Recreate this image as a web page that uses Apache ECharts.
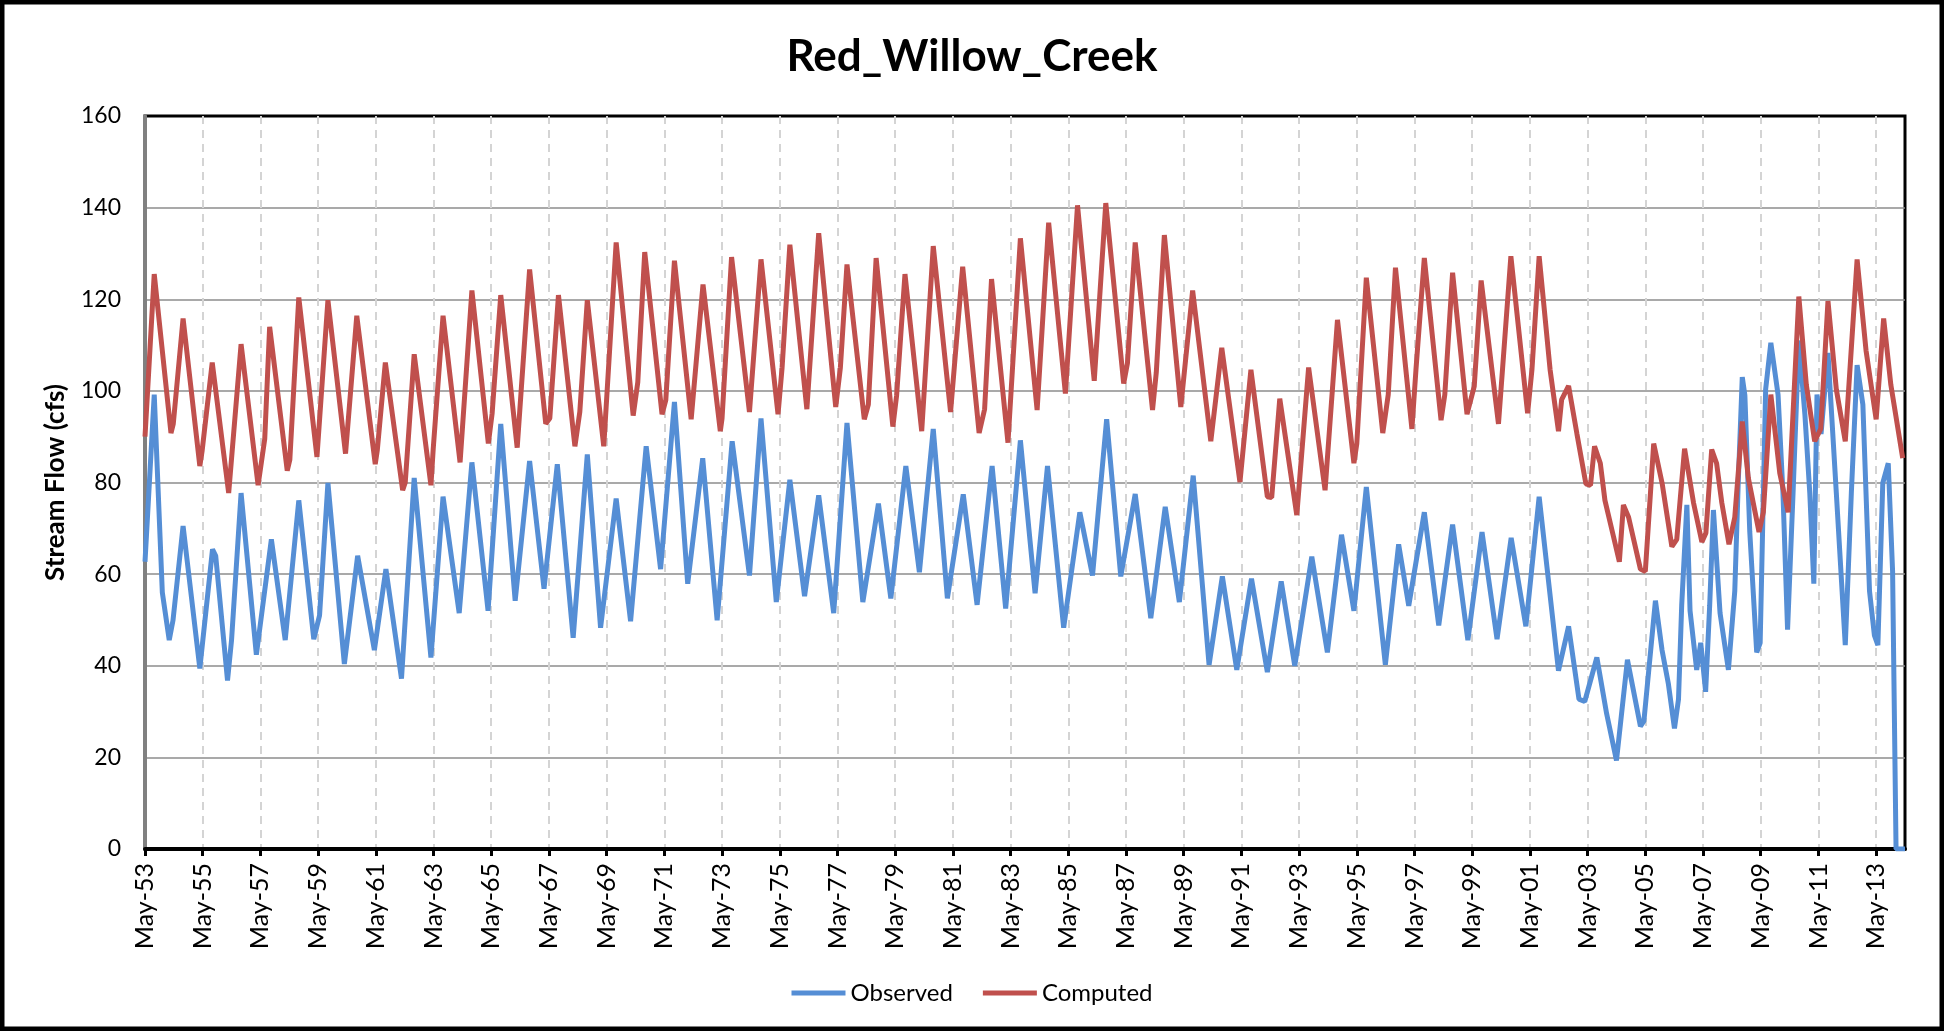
<!DOCTYPE html>
<html>
<head>
<meta charset="utf-8">
<script src="https://cdn.jsdelivr.net/npm/echarts@6/dist/echarts.min.js"></script>
<style>
  html, body { margin: 0; padding: 0; background: #fff; }
  #chart { width: 1944px; height: 1031px; }
</style>
</head>
<body>
<div id="chart"></div>
<script>
// x = years since May-53 (monthly record at peaks, troughs and bends)
var startYear = 53;
var spanYears = 61;

var observed = [
  [0, 62.7], [0.32, 99.2], [0.6, 56], [0.84, 45.6], [0.97, 49.9], [1.32, 70.5], [1.9, 39.4],
  [2.34, 65.4], [2.45, 64], [2.86, 36.8], [3.0, 45.6], [3.33, 77.7], [3.86, 42.4], [4.38, 67.6],
  [4.86, 45.6], [5.33, 76.1], [5.85, 45.8], [6.05, 51], [6.34, 79.9], [6.91, 40.4], [7.37, 64],
  [7.95, 43.4], [8.35, 61.1], [8.89, 37.2], [9.33, 81], [9.91, 41.8], [10.33, 76.9], [10.89, 51.5],
  [11.33, 84.4], [11.89, 52], [12.33, 92.8], [12.83, 54.2], [13.33, 84.7], [13.83, 56.8],
  [14.29, 84], [14.84, 46.1], [15.33, 86.1], [15.79, 48.3], [16.33, 76.5], [16.83, 49.7],
  [17.37, 87.9], [17.87, 61.1], [18.35, 97.6], [18.81, 57.9], [19.33, 85.3], [19.83, 49.9],
  [20.35, 89], [20.95, 59.7], [21.35, 94], [21.88, 53.9], [22.35, 80.6], [22.86, 55.2],
  [23.35, 77.2], [23.87, 51.5], [24.33, 93], [24.88, 53.9], [25.42, 75.4], [25.85, 54.7],
  [26.37, 83.6], [26.84, 60.4], [27.32, 91.7], [27.81, 54.7], [28.36, 77.4], [28.84, 53.3],
  [29.36, 83.6], [29.83, 52.5], [30.34, 89.2], [30.85, 55.8], [31.28, 83.6], [31.84, 48.3],
  [32.4, 73.5], [32.84, 59.7], [33.33, 93.8], [33.82, 59.5], [34.32, 77.5], [34.86, 50.4],
  [35.36, 74.7], [35.85, 53.9], [36.33, 81.5], [36.88, 40.2], [37.34, 59.5], [37.84, 39.1],
  [38.35, 59], [38.9, 38.6], [39.38, 58.4], [39.85, 40], [40.44, 63.8], [40.98, 42.9],
  [41.47, 68.6], [41.9, 52], [42.33, 79], [42.99, 40.2], [43.45, 66.5], [43.8, 53.1],
  [44.34, 73.5], [44.84, 48.8], [45.32, 70.8], [45.85, 45.6], [46.34, 69.2], [46.86, 45.8],
  [47.35, 67.9], [47.86, 48.6], [48.32, 76.9], [48.99, 38.9], [49.34, 48.6], [49.7, 32.7],
  [49.9, 32.2], [50.32, 41.8], [50.66, 29.5], [51.0, 19.3], [51.38, 41.3], [51.83, 26.8],
  [51.95, 27.9], [52.35, 54.2], [52.58, 43.4], [52.8, 36], [53.01, 26.3], [53.15, 32.7],
  [53.26, 53.1], [53.44, 75.1], [53.55, 52], [53.78, 39.1], [53.92, 45], [54.09, 34.3],
  [54.23, 53.1], [54.36, 74], [54.59, 51.5], [54.88, 39.1], [55.1, 56.3], [55.22, 79.9],
  [55.36, 103], [55.45, 99], [55.62, 69.2], [55.86, 42.9], [55.98, 45], [56.17, 100.3],
  [56.35, 110.5], [56.6, 99.2], [56.77, 77.7], [56.93, 47.9], [57.12, 77.7], [57.32, 111],
  [57.53, 94.9], [57.7, 77.7], [57.84, 57.9], [57.95, 99.2], [58.09, 90.6], [58.33, 108.3],
  [58.62, 77.7], [58.93, 44.5], [59.14, 77.7], [59.34, 105.6], [59.54, 97], [59.77, 56.3],
  [59.94, 46.6], [60.06, 44.5], [60.23, 79.9], [60.42, 84.2], [60.57, 60.6], [60.69, 0], [61, 0]
];

var computed = [
  [0, 90], [0.32, 125.5], [0.9, 90.8], [0.98, 92.8], [1.32, 115.8], [1.9, 83.6], [1.98, 86.9],
  [2.33, 106.2], [2.9, 77.7], [3.33, 110.2], [3.92, 79.4], [4.15, 89.5], [4.32, 114],
  [4.93, 82.6], [5.02, 85], [5.33, 120.4], [5.96, 85.6], [6.34, 119.8], [6.95, 86.3],
  [7.34, 116.4], [7.98, 84], [8.05, 87], [8.33, 106.2], [8.93, 78.3], [9.02, 80], [9.33, 108],
  [9.91, 79.4], [9.99, 87.4], [10.33, 116.4], [10.92, 84.4], [11.33, 121.9], [11.9, 88.5],
  [12.03, 95], [12.33, 120.9], [12.9, 87.6], [13.33, 126.5], [13.89, 92.8], [14.03, 94],
  [14.33, 120.9], [14.9, 87.9], [15.07, 95.4], [15.33, 119.8], [15.9, 87.9], [16.33, 132.4],
  [16.92, 94.6], [17.08, 101.9], [17.32, 130.3], [17.92, 94.9], [18.05, 98], [18.35, 128.4],
  [18.93, 93.8], [19.34, 123.2], [19.94, 91.2], [20.0, 94], [20.33, 129.2], [20.95, 95.4],
  [21.35, 128.7], [21.94, 94.9], [22.08, 105], [22.35, 131.9], [22.94, 96], [23.35, 134.4],
  [23.94, 96.5], [24.1, 105], [24.33, 127.6], [24.93, 93.8], [25.07, 97], [25.34, 129],
  [25.92, 92.2], [26.05, 99], [26.34, 125.5], [26.92, 91.2], [27.32, 131.6], [27.92, 95.4],
  [28.34, 127.1], [28.91, 90.8], [29.1, 96], [29.34, 124.4], [29.91, 88.7], [30.34, 133.3],
  [30.92, 95.8], [31.32, 136.7], [31.9, 99.4], [32.32, 140.5], [32.9, 102.2], [33.3, 141],
  [33.92, 101.6], [34.05, 106], [34.32, 132.4], [34.92, 95.8], [35.05, 104], [35.33, 134],
  [35.9, 96.5], [36.31, 121.9], [36.94, 89], [37.32, 109.4], [37.95, 80.1], [38.33, 104.6],
  [38.9, 76.9], [39.05, 76.7], [39.33, 98.3], [39.92, 72.9], [40.33, 105.1], [40.9, 78.3],
  [41.33, 115.5], [41.9, 84.2], [42.0, 88.5], [42.33, 124.7], [42.9, 90.8], [43.09, 99.2],
  [43.34, 126.9], [43.91, 91.7], [44.05, 104.6], [44.34, 129], [44.92, 93.6], [45.05, 99.2],
  [45.32, 125.8], [45.82, 94.9], [46.07, 101], [46.31, 124.1], [46.91, 92.8], [47.34, 129.4],
  [47.92, 95.1], [48.07, 104.6], [48.32, 129.4], [48.7, 104.6], [48.99, 91.2], [49.1, 98.1],
  [49.34, 101.1], [49.63, 90.6], [49.94, 79.7], [50.1, 79.4], [50.24, 87.9], [50.44, 84.2],
  [50.6, 76.1], [50.9, 68.1], [51.1, 62.7], [51.24, 75.1], [51.42, 72.4], [51.83, 61.1],
  [52.0, 60.6], [52.29, 88.5], [52.58, 79.9], [52.92, 66], [53.09, 67.6], [53.36, 87.4],
  [53.67, 75.6], [53.96, 67], [54.1, 69], [54.3, 87.2], [54.47, 84.2], [54.65, 75.6],
  [54.9, 66.5], [55.1, 72.4], [55.36, 93.3], [55.57, 81], [55.94, 69.2], [56.09, 73.5],
  [56.35, 99.2], [56.66, 82], [56.95, 73.5], [57.32, 120.6], [57.58, 101.3], [57.87, 89],
  [58.08, 91.7], [58.33, 119.6], [58.62, 100.3], [58.93, 89], [59.34, 128.7], [59.65, 108.8],
  [60.0, 93.8], [60.26, 115.8], [60.51, 101.3], [60.92, 85.3]
];

var font = "Lato, 'Liberation Sans', sans-serif";

var myChart = echarts.init(document.getElementById("chart"));

function yearLabel(v) {
  var yy = (startYear + v) % 100;
  return "May-" + (yy < 10 ? "0" + yy : yy);
}

var option = {
  animation: false,
  backgroundColor: "#fff",
  textStyle: { fontFamily: font },
  title: {
    text: "Red_Willow_Creek",
    left: "center",
    top: 30,
    textStyle: { fontSize: 44, fontWeight: "bold", color: "#000", fontFamily: font }
  },
  legend: {
    data: ["Observed", "Computed"],
    left: "center",
    top: 976,
    icon: "rect",
    itemWidth: 54,
    itemHeight: 5,
    itemGap: 30,
    textStyle: { fontSize: 24, color: "#000", fontFamily: font }
  },
  graphic: [{
    type: "rect",
    silent: true,
    shape: { x: 2, y: 2, width: 1940, height: 1027 },
    style: { fill: null, stroke: "#000", lineWidth: 5 }
  }],
  grid: {
    left: 145, right: 39, top: 116, bottom: 182,
    show: true, borderColor: "#000", borderWidth: 3
  },
  xAxis: {
    type: "value",
    min: 0, max: spanYears, interval: 2,
    axisLine: { lineStyle: { color: "#000", width: 4 } },
    axisTick: { show: true, length: 7, lineStyle: { color: "#000", width: 3 } },
    axisLabel: {
      rotate: 90, fontSize: 25, color: "#000", margin: 14,
      showMaxLabel: false, formatter: yearLabel
    },
    splitLine: {
      show: true, showMinLine: false, showMaxLine: false,
      lineStyle: { type: [8, 6], color: "#d4d4d4", width: 2 }
    }
  },
  yAxis: {
    type: "value",
    min: 0, max: 160, interval: 20,
    name: "Stream Flow (cfs)",
    nameLocation: "middle",
    nameGap: 76,
    nameTextStyle: { fontSize: 26, fontWeight: "bold", color: "#000" },
    axisLine: { show: true, lineStyle: { color: "#808080", width: 4 } },
    axisTick: { show: false },
    axisLabel: { fontSize: 23, color: "#000", margin: 24 },
    splitLine: { showMaxLine: false, lineStyle: { color: "#8c8c8c", width: 1.5 } }
  },
  series: [
    {
      name: "Observed", type: "line", data: observed, showSymbol: false,
      color: "#558ED5", lineStyle: { width: 5, color: "#558ED5" }
    },
    {
      name: "Computed", type: "line", data: computed, showSymbol: false,
      color: "#C0504D", lineStyle: { width: 5, color: "#C0504D" }
    }
  ]
};

myChart.setOption(option);
</script>
</body>
</html>
